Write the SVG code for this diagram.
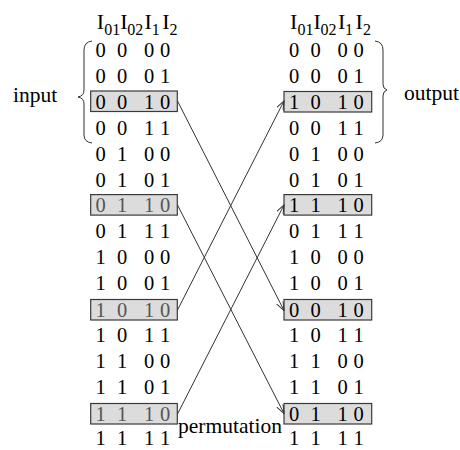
<svg xmlns="http://www.w3.org/2000/svg" width="460" height="450" viewBox="0 0 460 450" font-family="Liberation Serif, serif">
<defs>
<style>
.d{font-size:20.5px;text-anchor:middle}
.g{fill:#555}
.h{font-size:22px}
.s{font-size:16px}
.lbl{font-size:21.5px}
.box{fill:#dcdcdc;stroke:#3a3a3a;stroke-width:1.2}
.br{fill:none;stroke:#333;stroke-width:1}
.c{fill:none;stroke:#333;stroke-width:1;marker-end:url(#ah)}
</style>
<marker id="ah" markerUnits="userSpaceOnUse" markerWidth="10" markerHeight="8" refX="9" refY="3.5" orient="auto">
<path d="M0,0 L9,3.5 L0,7" fill="none" stroke="#333" stroke-width="1"/>
</marker>
</defs>
<rect width="460" height="450" fill="#fff"/>

<g id="header-left"><text class="h" font-family="Liberation Serif" y="29"><tspan x="96.8">I</tspan><tspan class="s" x="104.3" y="34.5">01</tspan><tspan x="120.3" y="29">I</tspan><tspan class="s" x="127.3" y="34.5">02</tspan><tspan x="144.6" y="29">I</tspan><tspan class="s" x="151.8" y="34.5">1</tspan><tspan x="162.2" y="29">I</tspan><tspan class="s" x="169.6" y="34.5">2</tspan></text></g>
<g id="header-right"><text class="h" font-family="Liberation Serif" y="29"><tspan x="290.1">I</tspan><tspan class="s" x="297.6" y="34.5">01</tspan><tspan x="313.6" y="29">I</tspan><tspan class="s" x="320.6" y="34.5">02</tspan><tspan x="337.9" y="29">I</tspan><tspan class="s" x="345.1" y="34.5">1</tspan><tspan x="355.5" y="29">I</tspan><tspan class="s" x="362.9" y="34.5">2</tspan></text></g>

<g id="input-label" font-family="Liberation Serif"><text class="lbl" x="13" y="102">input</text>
<path class="br" d="M92,41 Q84,42 84,50 L84,90 Q84,96 78,97 Q84,98 84,104 L84,135 Q84,142 92,143"/></g>
<g id="output-label" font-family="Liberation Serif"><text class="lbl" x="404" y="100">output</text>
<path class="br" d="M375,41 Q383,42 383,50 L383,84 Q383,89 387,90 Q383,91 383,96 L383,135 Q383,142 375,143"/></g>
<g id="permutation-label" font-family="Liberation Serif"><text class="lbl" x="178" y="433">permutation</text></g>

<g id="left-column" font-family="Liberation Serif">
<g id="L0"><text class="d" x="100.7 122.2 149.2 165.2" y="57">0000</text></g>
<g id="L1"><text class="d" x="100.7 122.2 149.2 165.2" y="82.9">0001</text></g>
<g id="L2"><rect class="box" x="90.7" y="91" width="86.6" height="20.5"/><text class="d" x="100.7 122.2 149.2 165.2" y="108.8">0010</text></g>
<g id="L3"><text class="d" x="100.7 122.2 149.2 165.2" y="134.7">0011</text></g>
<g id="L4"><text class="d" x="100.7 122.2 149.2 165.2" y="160.6">0100</text></g>
<g id="L5"><text class="d" x="100.7 122.2 149.2 165.2" y="186.5">0101</text></g>
<g id="L6"><rect class="box" x="90.7" y="194.6" width="86.6" height="20.5"/><text class="d g" x="100.7 122.2 149.2 165.2" y="212.4">0110</text></g>
<g id="L7"><text class="d" x="100.7 122.2 149.2 165.2" y="238.3">0111</text></g>
<g id="L8"><text class="d" x="100.7 122.2 149.2 165.2" y="264.2">1000</text></g>
<g id="L9"><text class="d" x="100.7 122.2 149.2 165.2" y="290.1">1001</text></g>
<g id="L10"><rect class="box" x="90.7" y="299.5" width="86.6" height="20.5"/><text class="d g" x="100.7 122.2 149.2 165.2" y="317">1010</text></g>
<g id="L11"><text class="d" x="100.7 122.2 149.2 165.2" y="341.9">1011</text></g>
<g id="L12"><text class="d" x="100.7 122.2 149.2 165.2" y="367.8">1100</text></g>
<g id="L13"><text class="d" x="100.7 122.2 149.2 165.2" y="393.7">1101</text></g>
<g id="L14"><rect class="box" x="90.7" y="403.5" width="86.6" height="20.5"/><text class="d g" x="100.7 122.2 149.2 165.2" y="421">1110</text></g>
<g id="L15"><text class="d" x="100.7 122.2 149.2 165.2" y="445">1111</text></g>
</g>

<g id="right-column" font-family="Liberation Serif">
<g id="R0"><text class="d" x="294 315.5 342.5 358.5" y="57">0000</text></g>
<g id="R1"><text class="d" x="294 315.5 342.5 358.5" y="82.9">0001</text></g>
<g id="R2"><rect class="box" x="284" y="91.5" width="87.7" height="20.5"/><text class="d" x="294 315.5 342.5 358.5" y="108.8">1010</text></g>
<g id="R3"><text class="d" x="294 315.5 342.5 358.5" y="134.7">0011</text></g>
<g id="R4"><text class="d" x="294 315.5 342.5 358.5" y="160.6">0100</text></g>
<g id="R5"><text class="d" x="294 315.5 342.5 358.5" y="186.5">0101</text></g>
<g id="R6"><rect class="box" x="284" y="194.6" width="87.7" height="20.5"/><text class="d" x="294 315.5 342.5 358.5" y="212.4">1110</text></g>
<g id="R7"><text class="d" x="294 315.5 342.5 358.5" y="238.3">0111</text></g>
<g id="R8"><text class="d" x="294 315.5 342.5 358.5" y="264.2">1000</text></g>
<g id="R9"><text class="d" x="294 315.5 342.5 358.5" y="290.1">1001</text></g>
<g id="R10"><rect class="box" x="284" y="299.5" width="87.7" height="20.5"/><text class="d" x="294 315.5 342.5 358.5" y="317">0010</text></g>
<g id="R11"><text class="d" x="294 315.5 342.5 358.5" y="341.9">1011</text></g>
<g id="R12"><text class="d" x="294 315.5 342.5 358.5" y="367.8">1100</text></g>
<g id="R13"><text class="d" x="294 315.5 342.5 358.5" y="393.7">1101</text></g>
<g id="R14"><rect class="box" x="284" y="403.5" width="87.7" height="20.5"/><text class="d" x="294 315.5 342.5 358.5" y="421">0110</text></g>
<g id="R15"><text class="d" x="294 315.5 342.5 358.5" y="445">1111</text></g>
</g>

<g id="connectors">
<line class="c" x1="177.5" y1="101" x2="284" y2="310.5"/>
<line class="c" x1="177.5" y1="205" x2="284" y2="413.5"/>
<line class="c" x1="177.5" y1="310" x2="284" y2="101"/>
<line class="c" x1="177.5" y1="414" x2="284" y2="205"/>
</g>
</svg>
